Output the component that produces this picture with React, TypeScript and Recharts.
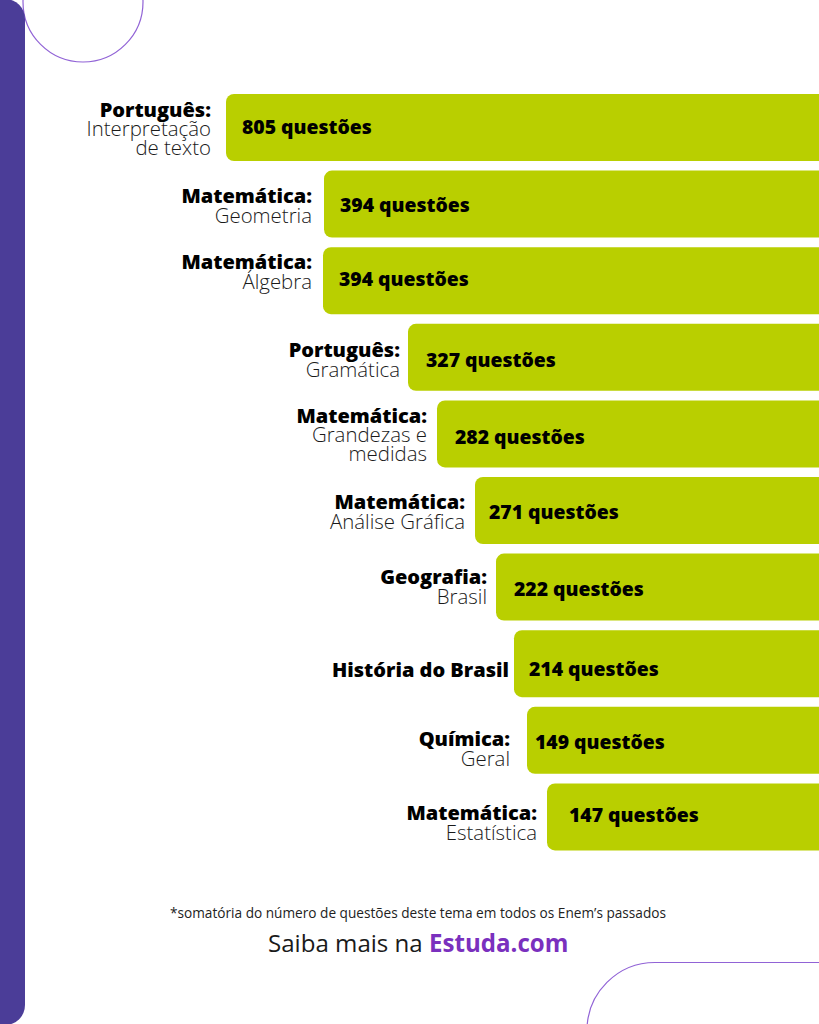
import React from "react";
import { BarChart, Bar, XAxis, YAxis, LabelList } from "recharts";

const subjects = ["Português:", "Matemática:", "Matemática:", "Português:", "Matemática:", "Matemática:", "Geografia:", "História do Brasil", "Química:", "Matemática:"];
const topics = [["Interpretação", "de texto"], ["Geometria"], ["Álgebra"], ["Gramática"], ["Grandezas e", "medidas"], ["Análise Gráfica"], ["Brasil"], [], ["Geral"], ["Estatística"]];
const questionCounts = [805, 394, 394, 327, 282, 271, 222, 214, 149, 147];
// Bar lengths as drawn in the picture: they are not proportional to the counts.
const drawnLengths = [593, 495, 496, 411, 382, 344, 323, 305, 292, 272];

const rows = subjects.map((subject, i) => ({
  key: `${subject}-${i}`,
  subject,
  topic: topics[i],
  count: questionCounts[i],
  drawnLength: drawnLengths[i],
}));

const FONT = "'Open Sans', sans-serif";
const labelGaps = [15, 12, 11, 8, 10, 10, 9, 5, 17, 10];
const labelNudges = [0, 0, -10, 1, 0, 0, -2, 6, 7, 5];
const valueInsets = [16, 16, 16, 18, 18, 14, 18, 15, 8, 22];
const valueNudges = [-1, 1, -2, 3, 3, 1, 2, 5, 2, -2];

const edgeOf = (p: any) => {
  const x = Number(p.x);
  const w = Number(p.width);
  return { left: Math.min(x, x + w), mid: Number(p.y) + Number(p.height) / 2 };
};

const NameLabel = (p: any) => {
  const { left, mid } = edgeOf(p);
  const row = rows[p.index];
  const x = left - labelGaps[p.index];
  const n = row.topic.length;
  const start = (n === 0 ? 7 : n === 1 ? -1.5 : -10.5) + labelNudges[p.index];
  return (
    <text textAnchor="end" fontFamily={FONT} fill="#000">
      <tspan x={x} y={mid + start} fontSize={20} fontWeight={800}>{row.subject}</tspan>
      {row.topic.map((t: string, i: number) => (
        <tspan key={t} x={x} y={mid + start + (n === 1 ? 20 : 19) * (i + 1)} fontSize={20.4} fontWeight={300} fill="#1a1a1a">{t}</tspan>
      ))}
    </text>
  );
};

const ValueLabel = (p: any) => {
  const { left, mid } = edgeOf(p);
  return (
    <text x={left + valueInsets[p.index]} y={mid + 7 + valueNudges[p.index]} fontFamily={FONT} fontSize={19.4} fontWeight={800} fill="#000">
      {`${rows[p.index].count} questões`}
    </text>
  );
};

export default function App() {
  return (
    <div style={{ position: "absolute", left: 0, top: 0, width: 819, height: 1024, overflow: "hidden", background: "#fff" }}>
      <svg width={819} height={1024} style={{ position: "absolute", left: 0, top: 0 }}>
        <circle cx={83} cy={2} r={60} fill="none" stroke="#9163D6" strokeWidth={1.2} />
        <rect x={587} y={962.5} width={320} height={200} rx={68} fill="none" stroke="#9163D6" strokeWidth={1.2} />
        <rect x={-30} y={-1} width={55} height={1026} rx={20} fill="#4B3D98" />
        <text x={170} y={918} fontFamily={FONT} fontSize={13.65} fill="#222">*somatória do número de questões deste tema em todos os Enem’s passados</text>
        <text x={268} y={952} fontFamily={FONT} fontSize={24.1} fontWeight={400} fill="#1a1a1a">
          Saiba mais na <tspan fontWeight={700} fill="#7A30BE">Estuda.com</tspan>
        </text>
      </svg>
      <div style={{ position: "absolute", left: 0, top: 0 }}>
        <BarChart width={819} height={1024} layout="vertical" data={rows} margin={{ top: 89, right: 0, bottom: 169, left: 0 }} barCategoryGap={0} barSize={67}>
          <XAxis type="number" reversed domain={[0, 819]} hide />
          <YAxis type="category" dataKey="key" hide />
          <Bar dataKey="drawnLength" fill="#B9CF00" radius={[0, 8, 8, 0]} isAnimationActive={false}>
            <LabelList dataKey="drawnLength" content={NameLabel} />
            <LabelList dataKey="count" content={ValueLabel} />
          </Bar>
        </BarChart>
      </div>
    </div>
  );
}
